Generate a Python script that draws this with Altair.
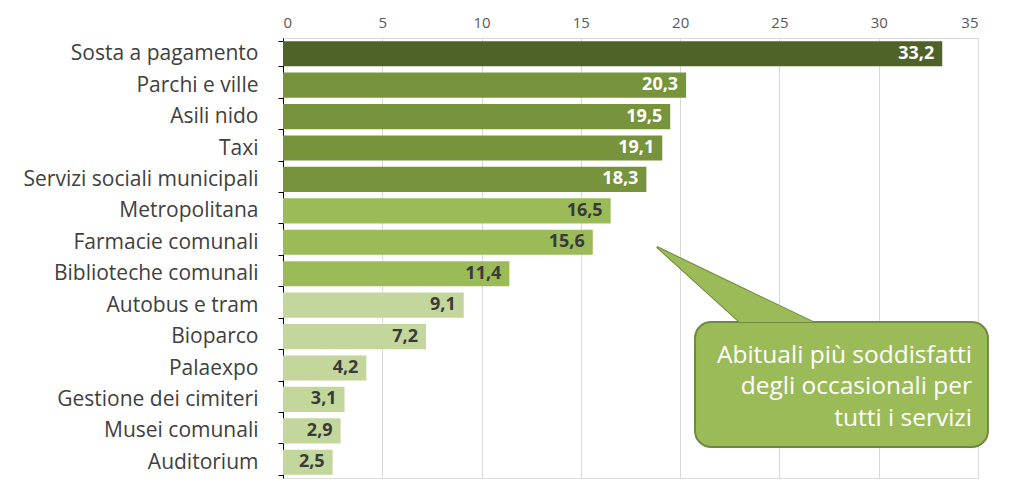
import altair as alt
import pandas as pd

categories = ["Sosta a pagamento", "Parchi e ville", "Asili nido", "Taxi",
              "Servizi sociali municipali", "Metropolitana", "Farmacie comunali",
              "Biblioteche comunali", "Autobus e tram", "Bioparco", "Palaexpo",
              "Gestione dei cimiteri", "Musei comunali", "Auditorium"]
values = [33.2, 20.3, 19.5, 19.1, 18.3, 16.5, 15.6, 11.4, 9.1, 7.2, 4.2, 3.1, 2.9, 2.5]
groups = ["g1", "g2", "g2", "g2", "g2", "g3", "g3", "g3", "g4", "g4", "g4", "g4", "g4", "g4"]
group_colors = {"g1": "#4F6228", "g2": "#77933C", "g3": "#9BBB59", "g4": "#C3D69B"}
label_colors = {"g1": "#FFFFFF", "g2": "#FFFFFF", "g3": "#3A3A3A", "g4": "#3A3A3A"}
callout_lines = ["Abituali più soddisfatti", "degli occasionali per", "tutti i servizi"]

df = pd.DataFrame({
    "cat": categories,
    "val": values,
    "grp": groups,
    "lab": [f"{v:.1f}".replace(".", ",") for v in values],
    "lcol": [label_colors[g] for g in groups],
})

FONT = "Open Sans"

x_scale = alt.Scale(domain=[0, 35], nice=False)
y_axis = alt.Axis(labelFontSize=21, labelColor="#404040", labelFont=FONT,
                  labelLimit=400,
                  domainColor="#000000", tickColor="#000000", tickSize=5,
                  tickBand="extent", labelPadding=20, grid=False)

bars = alt.Chart(df).mark_bar().encode(
    x=alt.X("val:Q", scale=x_scale,
            axis=alt.Axis(orient="top", values=list(range(0, 36, 5)), title=None,
                          labelColor="#595959", labelFontSize=15, labelFont=FONT,
                          domainColor="#D9D9D9", tickColor="#D9D9D9", tickSize=0,
                          gridColor="#D9D9D9", labelPadding=8)),
    y=alt.Y("cat:N", sort=categories, title=None,
            scale=alt.Scale(paddingInner=0.2, paddingOuter=0.1),
            axis=y_axis),
    color=alt.Color("grp:N", scale=alt.Scale(domain=list(group_colors.keys()),
                                             range=list(group_colors.values())), legend=None),
)

labels = alt.Chart(df).mark_text(align="right", baseline="middle", dx=-8,
                                 fontWeight="bold", fontSize=18, font=FONT).encode(
    x=alt.X("val:Q", scale=x_scale),
    y=alt.Y("cat:N", sort=categories, title=None, axis=y_axis),
    text="lab:N",
    color=alt.Color("lcol:N", scale=None),
)

main = alt.layer(bars, labels)

# Callout geometry in data units (x) and row units (y)
ry = alt.Scale(domain=[0, 14], reverse=True, nice=False)
tri = pd.DataFrame({"x": [18.83, 23.0, 26.7], "y": [6.65, 9.04, 9.04], "y2": [6.65, 7.92, 9.04]})
box = pd.DataFrame({"x": [20.75], "x2": [35.5], "y": [9.04], "y2": [13.01]})
txt = pd.DataFrame({"x": [34.7] * 3, "y": [10.12, 11.12, 12.12], "t": callout_lines})

tri_stroke = alt.Chart(tri).mark_area(color="#9BBB59", stroke="#71893F", strokeWidth=2, opacity=1).encode(
    x=alt.X("x:Q", scale=x_scale), y=alt.Y("y:Q", scale=ry, axis=None), y2="y2:Q")
box_mark = alt.Chart(box).mark_rect(color="#9BBB59", stroke="#71893F", strokeWidth=2, cornerRadius=16).encode(
    x=alt.X("x:Q", scale=x_scale), x2="x2:Q", y=alt.Y("y:Q", scale=ry, axis=None), y2="y2:Q")
tri_fill = alt.Chart(tri).mark_area(color="#9BBB59", opacity=1).encode(
    x=alt.X("x:Q", scale=x_scale), y=alt.Y("y:Q", scale=ry, axis=None), y2="y2:Q")
txt_mark = alt.Chart(txt).mark_text(align="right", baseline="middle", fontSize=24.5,
                                    font=FONT, color="#FFFFFF").encode(
    x=alt.X("x:Q", scale=x_scale), y=alt.Y("y:Q", scale=ry, axis=None), text="t:N")

annot = alt.layer(tri_stroke, box_mark, tri_fill, txt_mark)

chart = alt.layer(main, annot).resolve_scale(y="independent").properties(
    width=695, height=440,
    autosize=alt.AutoSizeParams(type="none"),
    padding={"left": 275, "top": 30, "right": 20, "bottom": 2},
).configure_view(stroke=None).configure(background="#FFFFFF")

chart.save("out.html", embed_options={"renderer": "svg", "actions": False})
